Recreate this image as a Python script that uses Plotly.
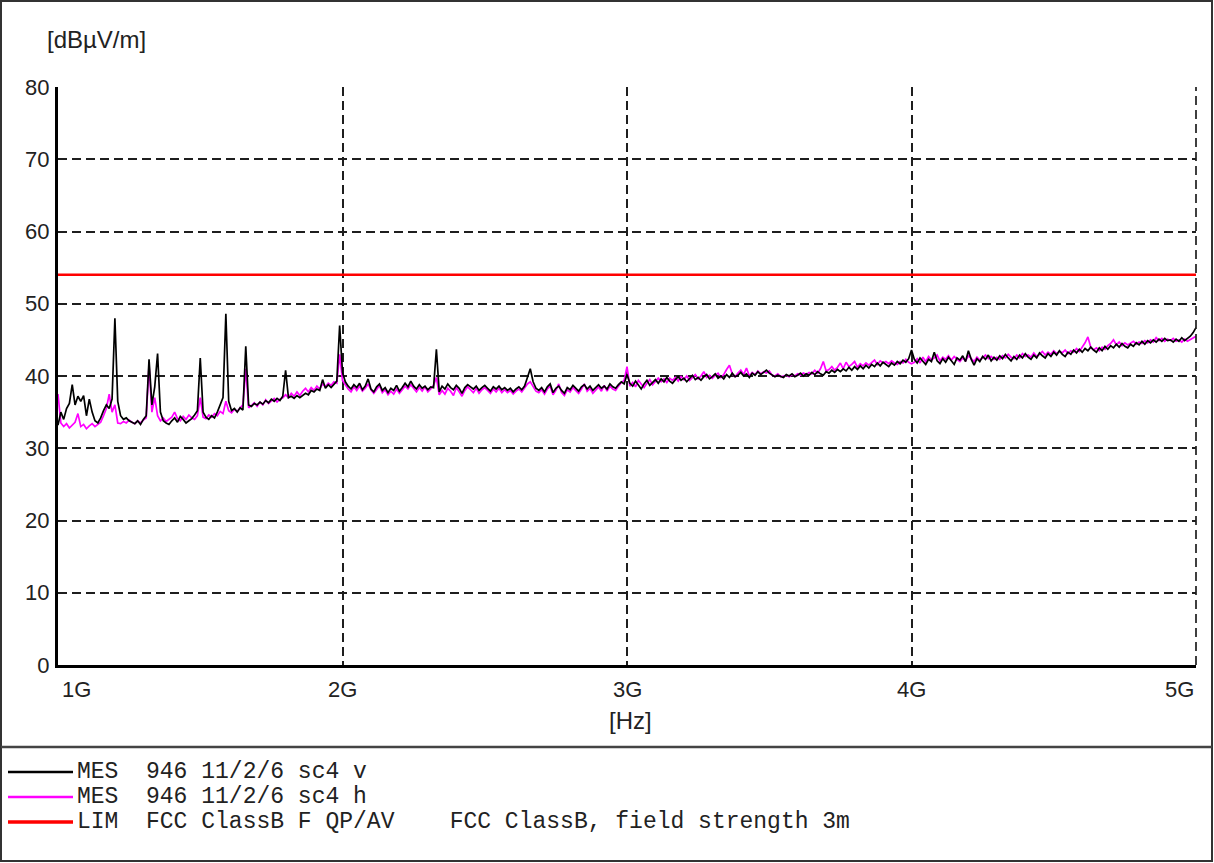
import plotly.graph_objects as go

# ---------------- data ----------------
FREQ_START_GHZ = 1.0
FREQ_STEP_GHZ = 0.01

# MES 946 11/2/6 sc4 v  (black)  [dBuV/m], 1.00 GHz .. 5.00 GHz, 10 MHz steps
MES_V = [
    33.2, 35.0, 34.0, 35.5, 36.2, 38.8, 36.0, 37.2, 36.5, 37.3,   # 1.00
    34.5, 36.8, 35.0, 33.8, 33.5, 34.2, 35.2, 36.0, 35.5, 36.8,   # 1.10
    48.0, 36.5, 34.5, 34.0, 34.2, 33.8, 33.6, 33.4, 33.8, 33.3,   # 1.20
    34.0, 34.5, 42.3, 36.0, 38.5, 43.1, 35.0, 33.8, 33.5, 33.3,   # 1.30
    33.8, 34.2, 33.6, 34.4, 34.0, 33.5, 33.8, 34.1, 34.6, 35.2,   # 1.40
    42.5, 35.0, 34.3, 34.0, 34.5, 34.2, 35.0, 36.0, 37.0, 48.6,   # 1.50
    36.5, 35.2, 35.5, 35.0, 35.6, 35.3, 44.1, 36.0, 35.8, 36.2,   # 1.60
    36.0, 36.4, 36.1, 36.6, 36.3, 36.8, 36.5, 36.9, 36.6, 37.2,   # 1.70
    40.8, 37.0, 37.2, 36.9, 37.3, 37.0, 37.3, 37.6, 37.4, 38.0,   # 1.80
    37.8, 38.2, 38.0, 39.5, 38.3, 38.8, 38.4, 38.9, 39.3, 47.0,   # 1.90
    40.5, 39.2, 38.6, 38.2, 38.8, 38.4, 39.0, 38.1, 38.6, 39.6,   # 2.00
    38.2, 37.8, 38.5, 38.9, 38.0, 38.4, 37.7, 38.3, 38.0, 38.7,   # 2.10
    37.9, 38.4, 39.0, 38.5, 39.3, 38.6, 38.2, 38.8, 38.3, 38.6,   # 2.20
    38.1, 38.5, 38.4, 43.7, 37.8, 38.6, 38.2, 38.9, 38.4, 38.1,   # 2.30
    38.7, 38.3, 37.6, 38.4, 38.8, 38.5, 38.2, 38.6, 38.0, 38.4,   # 2.40
    38.7, 38.3, 37.9, 38.5, 38.2, 38.6, 38.1, 38.4, 38.0, 38.3,   # 2.50
    37.8, 38.2, 38.5, 38.1, 38.6, 39.8, 41.0, 39.2, 38.3, 38.0,   # 2.60
    38.4, 37.8, 38.5, 38.9, 37.7, 38.3, 38.6, 38.0, 37.6, 38.4,   # 2.70
    38.1, 38.7, 38.3, 37.9, 38.5, 38.8, 38.2, 38.6, 38.0, 38.4,   # 2.80
    38.8, 38.3, 38.6, 38.2, 38.9, 38.5, 38.3, 38.8, 39.2, 38.9,   # 2.90
    40.2, 39.0, 38.6, 39.3, 38.8, 38.2, 38.9, 39.4, 38.7, 39.1,   # 3.00
    39.5, 39.0, 39.6, 39.2, 39.8, 39.3, 39.0, 39.5, 39.9, 39.4,   # 3.10
    39.7, 39.2, 39.6, 40.1, 39.5, 39.8, 39.4, 39.9, 40.2, 39.6,   # 3.20
    39.9, 40.3, 39.7, 40.0, 39.6, 40.2, 39.8, 40.4, 39.9, 40.1,   # 3.30
    40.5, 40.0, 40.3, 39.8, 40.4, 40.1, 40.6, 40.2, 40.5, 40.8,   # 3.40
    40.4, 40.2, 39.9, 40.1, 40.0, 39.8, 40.2, 40.0, 40.3, 39.9,   # 3.50
    40.1, 40.4, 40.0, 40.3, 40.1, 40.5, 40.2, 40.6, 40.3, 40.1,   # 3.60
    40.6, 40.4, 40.8, 40.5, 40.9, 40.6, 41.0, 40.7, 41.2, 40.8,   # 3.70
    41.3, 40.9, 41.4, 41.0, 41.5, 41.1, 41.6, 41.3, 41.8, 41.4,   # 3.80
    41.9, 41.6, 41.3, 41.8, 41.5, 42.0, 41.7, 42.2, 41.9, 42.4,   # 3.90
    43.6, 42.3, 41.8, 42.5, 42.0, 41.6, 42.3, 42.0, 43.3, 42.1,   # 4.00
    41.7, 42.4, 41.9, 42.6, 42.1, 41.6, 42.5, 42.2, 42.8, 42.0,   # 4.10
    43.5, 42.3, 41.5, 42.4, 42.0, 42.7, 42.3, 42.9, 42.1, 42.6,   # 4.20
    42.2, 42.8, 42.4, 43.0, 42.5, 42.1, 42.7, 42.3, 42.9, 42.5,   # 4.30
    43.1, 42.6, 42.3, 42.9, 42.5, 43.2, 42.8, 42.5, 43.1, 42.7,   # 4.40
    43.3, 42.9, 43.5, 43.0, 42.7, 43.3, 43.0, 43.6, 43.2, 43.7,   # 4.50
    43.3, 43.8, 43.5, 44.0, 43.6, 43.3, 43.9, 43.5, 44.1, 43.7,   # 4.60
    44.2, 43.9, 44.4, 44.0, 44.5, 44.1, 43.9, 44.4, 44.1, 44.6,   # 4.70
    44.3, 44.8, 44.4, 44.9, 44.6, 45.0, 44.7, 45.1, 44.8, 45.2,   # 4.80
    44.9, 45.0, 44.7, 45.1, 44.8, 45.3, 44.9, 45.2, 45.5, 46.0,   # 4.90
    46.7,                                                         # 5.00
]

# MES 946 11/2/6 sc4 h  (magenta)
MES_H = [
    37.5, 33.5, 33.0, 33.4, 32.8, 33.2, 33.6, 34.8, 33.0, 33.3,   # 1.00
    32.7, 33.1, 33.4, 33.0, 33.3, 33.6, 34.5, 35.5, 37.5, 35.0,   # 1.10
    36.0, 33.5, 33.4, 33.7, 33.5, 33.9, 33.6, 33.4, 33.8, 33.5,   # 1.20
    33.9, 34.2, 41.5, 35.0, 37.0, 34.5, 33.8, 34.2, 33.7, 34.0,   # 1.30
    34.3, 35.0, 34.1, 33.8, 34.4, 34.0, 34.6, 34.2, 34.0, 34.5,   # 1.40
    37.0, 34.3, 34.1, 34.6, 34.3, 34.8, 34.5, 35.1, 34.8, 36.5,   # 1.50
    35.2, 34.9, 35.4, 35.1, 35.6, 36.0, 41.0, 35.6, 35.9, 36.3,   # 1.60
    35.8, 36.4, 36.0, 36.7, 36.2, 36.5, 36.9, 36.4, 36.8, 37.0,   # 1.70
    37.4, 37.0, 37.6, 37.2, 37.8, 37.3, 37.9, 38.3, 37.8, 38.4,   # 1.80
    38.0, 38.6, 38.2, 38.9, 38.5, 39.0, 38.7, 39.2, 39.0, 43.0,   # 1.90
    39.4, 38.8, 38.2, 37.8, 38.5, 38.0, 38.6, 37.9, 38.3, 38.9,   # 2.00
    38.1, 37.6, 38.2, 38.7, 37.7, 38.1, 37.4, 37.9, 37.5, 38.2,   # 2.10
    37.6, 38.1, 38.6, 38.2, 38.8, 38.3, 37.8, 38.4, 37.9, 38.5,   # 2.20
    37.8, 38.2, 38.7, 39.8, 37.4, 38.0, 37.5, 38.3, 37.9, 37.3,   # 2.30
    38.4, 37.8, 37.2, 38.0, 38.5, 38.1, 37.7, 38.3, 37.6, 38.1,   # 2.40
    38.4, 38.0, 37.6, 38.2, 37.8, 38.3, 37.7, 38.1, 37.7, 38.0,   # 2.50
    37.5, 37.9, 38.2, 37.8, 38.3, 38.9, 39.2, 38.5, 37.9, 37.7,   # 2.60
    38.1, 37.5, 38.2, 38.6, 37.4, 38.0, 38.9, 37.7, 37.3, 38.1,   # 2.70
    37.8, 38.4, 38.0, 37.6, 38.2, 38.9, 37.9, 38.3, 37.6, 38.1,   # 2.80
    38.5, 37.9, 38.7, 37.9, 38.6, 38.2, 38.0, 38.6, 39.1, 39.4,   # 2.90
    41.3, 38.6, 39.1, 38.5, 39.4, 38.9, 38.4, 39.0, 39.5, 38.8,   # 3.00
    39.3, 39.7, 39.2, 39.6, 39.1, 39.7, 39.4, 39.8, 39.3, 39.9,   # 3.10
    39.5, 40.0, 39.4, 39.8, 40.2, 39.6, 40.0, 40.6, 39.8, 40.1,   # 3.20
    39.7, 40.1, 40.4, 39.8, 40.2, 40.9, 41.5, 40.3, 39.9, 40.4,   # 3.30
    40.8, 40.2, 41.1, 40.0, 40.5, 40.2, 40.7, 40.3, 40.6, 40.4,   # 3.40
    40.7, 40.1, 40.0, 40.3, 39.9, 40.0, 40.1, 39.9, 40.2, 40.0,   # 3.50
    40.3, 40.1, 40.4, 40.2, 40.5, 40.3, 40.8, 40.4, 41.0, 42.0,   # 3.60
    40.7, 40.9, 41.3, 40.8, 41.2, 41.8, 41.0, 41.9, 41.3, 41.6,   # 3.70
    42.0, 41.2, 41.7, 41.4, 41.8, 41.5, 41.9, 42.2, 41.6, 42.1,   # 3.80
    41.8, 42.0, 41.7, 42.1, 41.8, 41.6, 42.0, 41.8, 42.3, 41.9,   # 3.90
    41.7, 41.9, 42.4, 41.8, 42.6, 42.0, 42.7, 42.2, 42.5, 42.9,   # 4.00
    42.1, 42.6, 42.3, 42.8, 42.2, 42.7, 42.3, 42.0, 42.5, 42.1,   # 4.10
    42.8, 42.4, 42.0, 42.6, 42.2, 42.5, 42.9, 42.4, 42.7, 42.3,   # 4.20
    42.6, 42.3, 42.8, 42.5, 43.0, 42.6, 42.4, 42.9, 42.5, 43.1,   # 4.30
    42.7, 42.9, 42.6, 43.2, 42.7, 43.0, 43.4, 42.9, 43.3, 43.0,   # 4.40
    43.5, 43.1, 43.4, 43.2, 43.6, 43.1, 43.5, 43.3, 43.8, 43.4,   # 4.50
    44.0, 44.6, 45.4, 44.0, 43.6, 43.9, 43.5, 44.0, 43.7, 44.2,   # 4.60
    44.5, 45.0, 44.3, 44.7, 44.2, 44.6, 44.3, 44.5, 44.8, 44.4,   # 4.70
    44.7, 44.5, 44.9, 44.6, 45.0, 44.7, 45.3, 44.9, 45.2, 44.8,   # 4.80
    45.1, 44.9, 45.2, 44.8, 45.0, 44.7, 45.1, 44.8, 45.0, 45.3,   # 4.90
    45.5,                                                         # 5.00
]

# LIM FCC ClassB F QP/AV
LIM_FREQ = [1.0, 5.0]
LIM_VAL = [54.0, 54.0]

Y_TICKS = [0, 10, 20, 30, 40, 50, 60, 70, 80]
X_TICKS = [1, 2, 3, 4, 5]
X_TICK_LABELS = ["1G", "2G", "3G", "4G", "5G"]
Y_UNIT = "[dBµV/m]"
X_UNIT = "[Hz]"

LEGEND_LABELS = [
    "MES  946 11/2/6 sc4 v",
    "MES  946 11/2/6 sc4 h",
    "LIM  FCC ClassB F QP/AV    FCC ClassB, field strength 3m",
]
LEGEND_COLORS = ["#000000", "#ff00ff", "#ff0000"]

# ---------------- figure ----------------
W, H = 1214, 863
ML, MR, MT, MB = 58, 18, 87, 198
PW, PH = W - ML - MR, H - MT - MB


def px(x):
    return (x - ML) / PW


def py(y):
    return (H - MB - y) / PH


freq = [round(FREQ_START_GHZ + i * FREQ_STEP_GHZ, 2) for i in range(len(MES_V))]
freq_h = [round(FREQ_START_GHZ + i * FREQ_STEP_GHZ, 2) for i in range(len(MES_H))]

fig = go.Figure()
fig.add_trace(go.Scatter(x=freq_h, y=MES_H, mode="lines",
                         line=dict(color=LEGEND_COLORS[1], width=1.7),
                         showlegend=False, hoverinfo="skip"))
fig.add_trace(go.Scatter(x=freq, y=MES_V, mode="lines",
                         line=dict(color=LEGEND_COLORS[0], width=1.7),
                         showlegend=False, hoverinfo="skip"))
fig.add_trace(go.Scatter(x=LIM_FREQ, y=LIM_VAL, mode="lines",
                         line=dict(color=LEGEND_COLORS[2], width=2.5),
                         showlegend=False, hoverinfo="skip"))

GRID_COLOR = "#1e1e1e"
GRID_WIDTH = 1.7
GRID_DASH = "9px,5px"
grid_style = dict(showgrid=True, gridcolor=GRID_COLOR, gridwidth=GRID_WIDTH,
                  griddash=GRID_DASH, zeroline=False,
                  showline=True, linecolor="#000000", linewidth=3)

fig.update_xaxes(range=[1, 5], tickvals=X_TICKS[1:], showticklabels=False,
                 ticks="", **grid_style)
fig.update_yaxes(range=[0, 80], tickvals=Y_TICKS, ticktext=[str(v) for v in Y_TICKS],
                 ticks="", ticklabelstandoff=1,
                 tickfont=dict(family="Liberation Sans, Arial", size=22, color="#222222"),
                 **grid_style)

shapes = []
# right-hand dashed boundary (grid line at the right edge of the plot area)
shapes.append(dict(type="line", xref="paper", yref="paper", x0=1, x1=1,
                   y0=0, y1=1, line=dict(color=GRID_COLOR, width=GRID_WIDTH, dash=GRID_DASH)))
# outer frame and divider
shapes.append(dict(type="rect", xref="paper", yref="paper",
                   x0=px(1), x1=px(1212), y0=py(1), y1=py(861),
                   line=dict(color="#333333", width=2), fillcolor="rgba(0,0,0,0)"))
shapes.append(dict(type="line", xref="paper", yref="paper",
                   x0=px(1), x1=px(1212), y0=py(747), y1=py(747),
                   line=dict(color="#444444", width=2.5)))

annotations = []
LEGEND_ROWS_Y = [772, 797, 822]
LEGEND_WIDTHS = [2.4, 2.4, 3.5]
for label, color, ry, lw in zip(LEGEND_LABELS, LEGEND_COLORS, LEGEND_ROWS_Y, LEGEND_WIDTHS):
    shapes.append(dict(type="line", xref="paper", yref="paper",
                       x0=px(8), x1=px(73), y0=py(ry), y1=py(ry),
                       line=dict(color=color, width=lw)))
    annotations.append(dict(text=label, xref="paper", yref="paper",
                            x=px(75), y=py(ry), xanchor="left", yanchor="middle",
                            showarrow=False,
                            font=dict(family="Liberation Mono, Courier New, monospace",
                                      size=23, color="#222222")))

# x tick labels
for v, t in zip(X_TICKS, X_TICK_LABELS):
    if v == X_TICKS[0]:
        anchor, shift = "left", 2
    elif v == X_TICKS[-1]:
        anchor, shift = "right", 0
    else:
        anchor, shift = "center", 0
    annotations.append(dict(text=t, x=v, xref="x", y=py(689), yref="paper",
                            xanchor=anchor, yanchor="middle", xshift=shift,
                            showarrow=False,
                            font=dict(family="Liberation Sans, Arial", size=22, color="#222222")))

annotations.append(dict(text=X_UNIT, xref="paper", yref="paper", x=px(630), y=py(720),
                        xanchor="center", yanchor="middle", showarrow=False,
                        font=dict(family="Liberation Sans, Arial", size=24, color="#222222")))
annotations.append(dict(text=Y_UNIT, xref="paper", yref="paper", x=px(96), y=py(40),
                        xanchor="center", yanchor="middle", showarrow=False,
                        font=dict(family="Liberation Sans, Arial", size=24, color="#222222")))

fig.update_layout(width=W, height=H, autosize=False,
                  margin=dict(l=ML, r=MR, t=MT, b=MB, pad=0),
                  paper_bgcolor="white", plot_bgcolor="white",
                  shapes=shapes, annotations=annotations, showlegend=False)

fig.write_html("out.html", config={"displayModeBar": False})
